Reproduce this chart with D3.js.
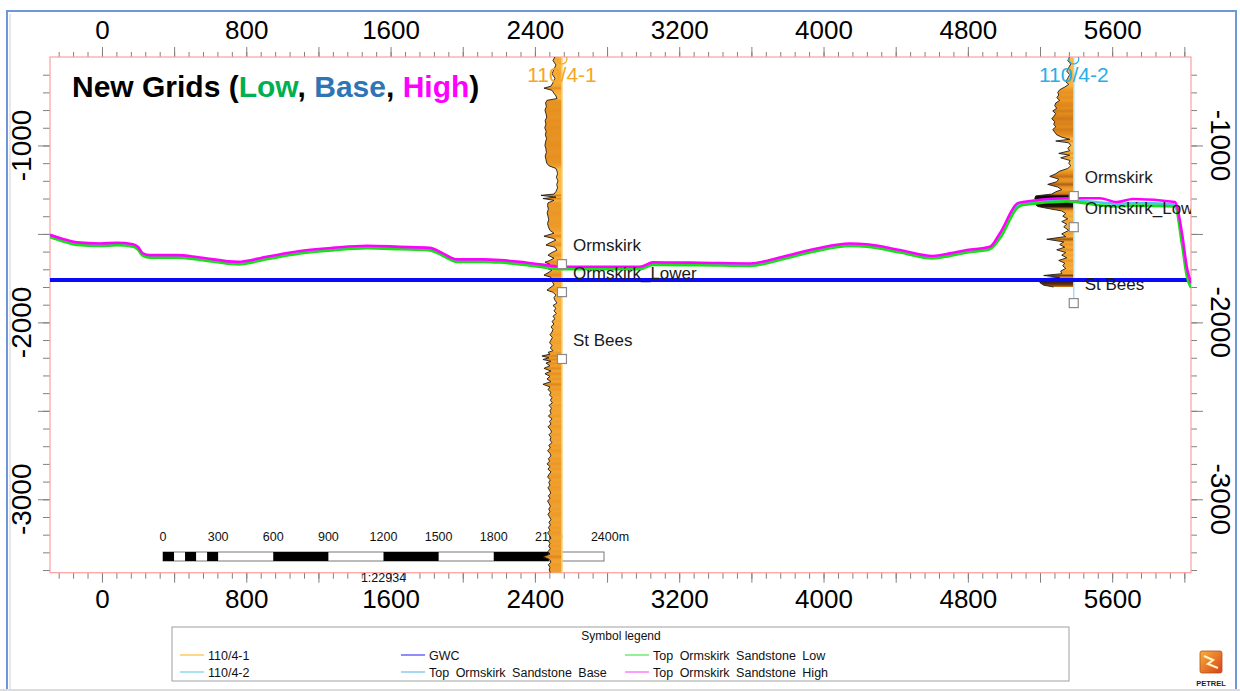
<!DOCTYPE html>
<html><head><meta charset="utf-8">
<script src="https://cdn.jsdelivr.net/npm/d3@7"></script>
<style>
html,body{margin:0;padding:0;background:#fff;}
svg{display:block;}
text{font-family:"Liberation Sans",Arial,sans-serif;}
</style></head><body>
<svg id="chart" width="1240" height="691"></svg>
<script>
// ---------------- DATA ----------------
const xAxisLabels = [0, 800, 1600, 2400, 3200, 4000, 4800, 5600];
const yAxisLabels = [-1000, -2000, -3000];
const xDomain = [-288, 6037];
const yDomain = [-500, -3415];

// horizon section positions (m along section) and depths (m)
const sectionX = [-288,-194,-139,-11,84,172,199,227,266,415,543,753,914,1098,1280,1468,1652,1817,1890,1968,2112,2207,2317,2390,2577,2761,2982,3055,3315,3592,3774,3963,4146,4240,4424,4606,4700,4795,4922,4978,5077,5105,5350,5532,5626,5715,5948,5987,6014,6037];
const topHigh = [-1505,-1535,-1548,-1554,-1550,-1558,-1573,-1610,-1620,-1620,-1633,-1658,-1629,-1597,-1579,-1567,-1573,-1579,-1610,-1644,-1644,-1648,-1658,-1667,-1686,-1686,-1686,-1661,-1663,-1667,-1629,-1582,-1554,-1558,-1591,-1625,-1610,-1591,-1573,-1496,-1326,-1320,-1298,-1298,-1320,-1303,-1320,-1496,-1688,-1778];
const topBase = [-1511,-1542,-1555,-1561,-1557,-1565,-1580,-1617,-1627,-1627,-1640,-1665,-1636,-1604,-1586,-1574,-1580,-1586,-1617,-1651,-1651,-1655,-1665,-1674,-1693,-1693,-1693,-1668,-1670,-1674,-1636,-1589,-1561,-1565,-1598,-1632,-1617,-1598,-1580,-1505,-1338,-1328,-1308,-1322,-1330,-1326,-1332,-1520,-1710,-1792];
const topLow  = [-1518,-1549,-1562,-1568,-1564,-1572,-1588,-1624,-1634,-1634,-1647,-1672,-1643,-1611,-1593,-1581,-1587,-1593,-1624,-1658,-1658,-1662,-1672,-1681,-1700,-1700,-1700,-1676,-1677,-1681,-1643,-1596,-1568,-1572,-1605,-1639,-1624,-1605,-1587,-1525,-1350,-1336,-1316,-1338,-1345,-1340,-1345,-1560,-1740,-1805];
const gwcDepth = -1760;

// wells
const wellNames = ["110/4-1", "110/4-2"];
const wellX = [2550, 5387];
const wellPathEnd = [-3415, -1891];
// log curves: [depth, GR]
const well1Log = [[-500,35],[-520,45],[-545,30],[-570,40],[-595,50],[-620,35],[-645,45],[-665,55],[-676,90],[-688,50],[-705,40],[-720,30],[-735,25],[-745,75],
[-760,82],[-780,78],[-800,85],[-820,80],[-840,76],[-860,84],[-880,80],[-900,86],[-920,79],[-940,83],[-960,77],[-980,82],[-1000,85],[-1020,80],[-1040,78],[-1060,84],[-1080,80],[-1100,76],[-1115,65],
[-1130,30],[-1145,25],[-1160,22],[-1180,28],[-1200,20],[-1220,26],[-1240,22],[-1260,30],[-1275,40],[-1282,105],[-1292,30],[-1300,95],[-1310,40],
[-1325,70],[-1340,72],[-1360,68],[-1380,74],[-1400,70],[-1420,66],[-1440,72],[-1460,68],[-1480,60],
[-1496,40],[-1513,90],[-1525,45],[-1535,30],[-1550,60],[-1563,80],[-1575,35],[-1592,25],[-1605,50],[-1620,70],[-1637,40],[-1650,60],[-1660,85],[-1672,60],[-1682,105],[-1695,75],[-1705,50],[-1720,70],[-1733,90],[-1745,55],[-1761,60],[-1775,45],[-1789,40],[-1805,60],[-1818,75],[-1830,45],[-1846,30],[-1860,40],
[-1875,35],[-1890,25],[-1905,45],[-1920,30],[-1935,40],[-1950,28],[-1965,45],[-1980,35],[-1995,50],[-2010,40],[-2025,55],[-2040,45],[-2055,50],[-2070,60],[-2085,48],[-2100,55],[-2115,62],[-2130,50],[-2145,58],[-2160,45],[-2170,70],[-2180,60],[-2190,100],[-2200,65],[-2210,95],[-2220,55],[-2230,80],[-2245,60],[-2260,90],[-2275,55],[-2290,85],[-2305,60],[-2320,75],[-2335,55],[-2350,95],[-2365,60],[-2380,70],[-2395,55],[-2410,62],[-2425,50],[-2440,58],[-2455,48],[-2470,65],[-2485,52],[-2500,60],[-2515,55],[-2530,68],[-2545,50],[-2560,62],[-2575,55],[-2590,70],[-2605,58],[-2620,52],[-2635,65],[-2650,55],[-2665,60],[-2680,50],[-2695,66],[-2710,58],[-2725,72],[-2740,60],[-2755,55],[-2770,68],[-2785,62],[-2800,75],[-2815,60],[-2830,70],[-2845,55],[-2860,65],[-2875,72],[-2890,58],[-2905,66],[-2920,60],[-2935,70],[-2950,62],[-2965,56],[-2980,68],[-2995,60],[-3010,72],[-3025,64],[-3040,58],[-3055,66],[-3070,60],[-3085,70],[-3100,62],[-3115,55],[-3130,65],[-3145,58],[-3160,68],[-3175,60],[-3190,72],[-3205,62],[-3220,55],[-3235,68],[-3250,60],[-3265,66],[-3280,58],[-3295,70],[-3310,60],[-3325,95],[-3340,62],[-3355,55],[-3370,68],[-3385,60],[-3400,64],[-3415,58]];
const well2Log = [[-500,20],[-520,30],[-540,15],[-560,25],[-580,35],[-600,20],[-620,30],[-640,40],[-655,25],[-670,45],
[-685,70],[-700,80],[-715,75],[-730,85],[-745,70],[-760,90],
[-775,95],[-790,85],[-805,105],[-820,90],[-835,100],[-850,110],[-865,95],[-880,100],[-895,90],[-910,105],[-925,95],[-940,85],[-953,60],
[-965,20],[-975,90],[-985,25],[-1000,15],[-1015,30],[-1030,20],[-1045,75],[-1055,20],[-1070,65],[-1085,18],[-1100,25],[-1115,15],[-1130,30],
[-1145,70],[-1160,90],[-1175,120],[-1190,75],[-1205,85],[-1220,130],[-1235,80],[-1250,60],[-1262,90],
[-1275,110],[-1285,190],[-1300,195],[-1315,185],[-1330,195],[-1345,180],[-1358,120],[-1370,60],
[-1385,40],[-1400,55],[-1415,30],[-1430,60],[-1445,35],[-1460,50],[-1480,25],
[-1500,60],[-1515,40],[-1530,135],[-1545,50],[-1560,70],[-1575,45],[-1590,85],[-1605,40],[-1620,60],[-1635,35],[-1650,75],[-1665,45],[-1680,55],[-1695,40],[-1710,65],
[-1725,60],[-1735,150],[-1745,70],[-1755,165],[-1765,80],[-1775,170],[-1790,150],[-1800,100]];
const well1TopNames = ["Ormskirk", "Ormskirk_Lower", "St Bees"];
const well1TopDepths = [-1671, -1829, -2207];
const well2TopNames = ["Ormskirk", "Ormskirk_Lower", "St Bees"];
const well2TopDepths = [-1286, -1462, -1891];

// scale bar
const scaleBarTicks = [0, 300, 600, 900, 1200, 1500, 1800, 2100, 2400];
const scaleBarBlocks = [[0,60],[120,180],[240,300],[600,900],[1200,1500],[1800,2100]];
const scaleRatio = "1:22934";

// legend
const legendLabels = ["110/4-1", "110/4-2", "GWC", "Top Ormskirk Sandstone Base", "Top Ormskirk Sandstone Low", "Top Ormskirk Sandstone High"];

// ---------------- STYLES / LAYOUT ----------------
const legendColors = ["#ffd68a", "#a8e2f6", "#8f8cff", "#a9d6f4", "#94f094", "#ff9cff"];
const legendCol = [0, 0, 1, 1, 2, 2], legendRow = [0, 1, 0, 1, 0, 1];
const legendColX = [180, 401, 625], legendRowY = [655, 672];
const wellColors = ["#f5a623", "#29aee6"];
const pathColors = ["#ffcf70", "#9fdcf6"];

const W = 1240, H = 691;
const L = 50, R = 1191, T = 57, B = 572.7;
const svg = d3.select("#chart");

const x = d3.scaleLinear().domain(xDomain).range([L, R]);
const y = d3.scaleLinear().domain(yDomain).range([T, B]);

// outer frame
svg.append("rect").attr("x",0).attr("y",0).attr("width",W).attr("height",H).attr("fill","#fff");
svg.append("path").attr("d", `M7,${H} V11 H1236 V${H}`).attr("fill","none").attr("stroke","#6f96d8").attr("stroke-width",2);
svg.append("path").attr("d", `M10,${H} V14`).attr("fill","none").attr("stroke","#d0d0d0").attr("stroke-width",1);
svg.append("line").attr("x1",0).attr("x2",W).attr("y1",690).attr("y2",690).attr("stroke","#dcdcdc").attr("stroke-width",2);

// clip
svg.append("defs").append("clipPath").attr("id","plotclip")
  .append("rect").attr("x",L).attr("y",T).attr("width",R-L).attr("height",B-T);

// ---------- axes ----------
const minorX = d3.range(-240, xDomain[1], 80);
const majorX = minorX.filter(v => v % 400 === 0);
const minorY = d3.range(-600, yDomain[1], -100);
const majorY = minorY.filter(v => v % 500 === 0);
const tickColor = "#808080";

function styleAxis(g){ g.select(".domain").remove(); g.selectAll("line").attr("stroke", tickColor); }

svg.append("g").attr("transform",`translate(0,${T})`).call(d3.axisTop(x).tickValues(minorX).tickSize(5).tickFormat("")).call(styleAxis);
svg.append("g").attr("transform",`translate(0,${T})`).call(d3.axisTop(x).tickValues(majorX).tickSize(10).tickFormat("")).call(styleAxis);
svg.append("g").attr("transform",`translate(0,${T})`)
  .call(d3.axisTop(x).tickValues(xAxisLabels).tickSize(0).tickPadding(18).tickFormat(d3.format("d")))
  .call(g => { g.select(".domain").remove(); g.selectAll("text").attr("font-size",26).attr("font-family","Liberation Sans, Arial").attr("fill","#000"); });

svg.append("g").attr("transform",`translate(0,${B})`).call(d3.axisBottom(x).tickValues(minorX).tickSize(6).tickFormat("")).call(styleAxis);
svg.append("g").attr("transform",`translate(0,${B})`).call(d3.axisBottom(x).tickValues(majorX).tickSize(10).tickFormat("")).call(styleAxis);
svg.append("g").attr("transform",`translate(0,${B})`)
  .call(d3.axisBottom(x).tickValues(xAxisLabels).tickSize(0).tickPadding(17).tickFormat(d3.format("d")))
  .call(g => { g.select(".domain").remove(); g.selectAll("text").attr("font-size",26).attr("font-family","Liberation Sans, Arial").attr("fill","#000"); });

svg.append("g").attr("transform",`translate(${L},0)`).call(d3.axisLeft(y).tickValues(minorY).tickSize(7).tickFormat("")).call(styleAxis);
svg.append("g").attr("transform",`translate(${L},0)`).call(d3.axisLeft(y).tickValues(majorY).tickSize(12).tickFormat("")).call(styleAxis);
svg.append("g").attr("transform",`translate(${R},0)`).call(d3.axisRight(y).tickValues(minorY).tickSize(6).tickFormat("")).call(styleAxis);
svg.append("g").attr("transform",`translate(${R},0)`).call(d3.axisRight(y).tickValues(majorY).tickSize(12).tickFormat("")).call(styleAxis);

svg.append("g").selectAll("text").data(yAxisLabels).join("text")
  .attr("transform", d => `translate(31,${y(d)}) rotate(-90)`)
  .attr("text-anchor","middle").attr("font-size",28).attr("fill","#000").text(d => d);
svg.append("g").selectAll("text").data(yAxisLabels).join("text")
  .attr("transform", d => `translate(1211,${y(d)}) rotate(90)`)
  .attr("text-anchor","middle").attr("font-size",28).attr("fill","#000").text(d => d);

// plot frame
svg.append("rect").attr("x",L).attr("y",T).attr("width",R-L).attr("height",B-T)
  .attr("fill","none").attr("stroke","#ff9e9e").attr("stroke-width",1.2);

// ---------- scale bar ----------
const sb = d3.scaleLinear().domain([0,2400]).range([163,604]);
const sbG = svg.append("g");
sbG.append("rect").attr("x",sb(0)).attr("y",552).attr("width",sb(2400)-sb(0)).attr("height",9)
  .attr("fill","#fff").attr("stroke","#777").attr("stroke-width",1);
sbG.selectAll("rect.blk").data(scaleBarBlocks).join("rect").attr("class","blk")
  .attr("x", d => sb(d[0])).attr("y",552).attr("width", d => sb(d[1]) - sb(d[0])).attr("height",9).attr("fill","#000");
sbG.selectAll("text.sbl").data(scaleBarTicks).join("text").attr("class","sbl")
  .attr("x", d => sb(d) + (d === 2400 ? 6 : 0)).attr("y",541).attr("text-anchor","middle")
  .attr("font-size",12.5).attr("fill","#111").text(d => d === 2400 ? d + "m" : d);
sbG.append("text").attr("x", sb(1200)).attr("y",582).attr("text-anchor","middle")
  .attr("font-size",12.5).attr("fill","#111").text(scaleRatio);

// ---------- wells ----------
const plot = svg.append("g").attr("clip-path","url(#plotclip)");
const gr = d3.scaleLinear().domain([0,150]).range([0,30]);
const fillColor = d3.scaleLinear().domain([0,45,90,125,160,190]).range(["#ffc85a","#f6ab37","#e38b1c","#bd6a18","#5a2d0e","#120a05"]).clamp(true);
const defs = svg.select("defs");
[well1Log, well2Log].forEach((log, i) => {
  const wx = x(wellX[i]);
  const y0 = y(log[0][0]), y1 = y(log[log.length-1][0]);
  const grad = defs.append("linearGradient").attr("id","wg"+i).attr("gradientUnits","userSpaceOnUse")
    .attr("x1",0).attr("x2",0).attr("y1",y0).attr("y2",y1);
  log.forEach(p => grad.append("stop").attr("offset",(y(p[0]) - y0)/(y1 - y0)).attr("stop-color",fillColor(p[1])));
  plot.append("path").datum(log)
    .attr("d", d3.area().y(p => y(p[0])).x0(p => wx - gr(p[1])).x1(wx))
    .attr("fill","url(#wg"+i+")");
  plot.append("path").datum(log)
    .attr("d", d3.line().y(p => y(p[0])).x(p => wx - gr(p[1])))
    .attr("fill","none").attr("stroke","#1a1a1a").attr("stroke-width",0.9);
  plot.append("line").attr("x1",wx).attr("x2",wx).attr("y1",T).attr("y2",y(wellPathEnd[i]))
    .attr("stroke",pathColors[i]).attr("stroke-width",1.5);
  plot.append("circle").attr("cx",wx).attr("cy",T+2).attr("r",5).attr("fill","none").attr("stroke",wellColors[i]).attr("stroke-width",1.2);
});

// ---------- GWC & horizons ----------
plot.append("line").attr("x1",x(xDomain[0])).attr("x2",x(xDomain[1])).attr("y1",y(gwcDepth)).attr("y2",y(gwcDepth))
  .attr("stroke","#0a0af5").attr("stroke-width",4);
const hLine = d3.line().x((d,i) => x(sectionX[i])).y(d => y(d)).curve(d3.curveMonotoneX);
[[topBase,"#4cc3f2"],[topLow,"#18e018"],[topHigh,"#ff00ff"]].forEach(([arr,c]) => {
  plot.append("path").datum(arr).attr("d",hLine).attr("fill","none").attr("stroke",c).attr("stroke-width",2.6);
});

// ---------- markers & labels ----------
[[well1TopNames, well1TopDepths],[well2TopNames, well2TopDepths]].forEach(([names, depths], i) => {
  const wx = x(wellX[i]);
  plot.selectAll(null).data(depths).join("rect")
    .attr("x", wx - 4.5).attr("y", d => y(d) - 4.5).attr("width",9).attr("height",9)
    .attr("fill","#fff").attr("stroke","#8a8a8a").attr("stroke-width",1.2);
  plot.selectAll(null).data(names).join("text")
    .attr("x", wx + 11).attr("y", (d,j) => y(depths[j]) - 13)
    .attr("font-size",17).attr("fill","#1a1a1a").text(d => d);
  svg.append("text").attr("x", wx).attr("y", 82).attr("text-anchor","middle")
    .attr("font-size",21).attr("fill",wellColors[i]).text(wellNames[i]);
});

// ---------- title ----------
const title = svg.append("text").attr("x",72).attr("y",97).attr("font-family","Lato, 'Open Sans', sans-serif")
  .attr("font-weight","bold").attr("font-size",30);
[["New Grids (","#000"],["Low","#00b050"],[", ","#000"],["Base","#2e75b6"],[", ","#000"],["High","#ff00ff"],[")","#000"]]
  .forEach(([t,c]) => title.append("tspan").attr("fill",c).text(t));

// ---------- legend ----------
const lg = svg.append("g");
lg.append("rect").attr("x",172).attr("y",627).attr("width",897).attr("height",54)
  .attr("fill","#fff").attr("stroke","#a0a0a0").attr("stroke-width",1);
lg.append("text").attr("x",621).attr("y",640).attr("text-anchor","middle").attr("font-size",12).attr("fill","#111").text("Symbol legend");
legendLabels.forEach((lab, i) => {
  const lx = legendColX[legendCol[i]], ly = legendRowY[legendRow[i]];
  lg.append("line").attr("x1",lx).attr("x2",lx+24).attr("y1",ly).attr("y2",ly).attr("stroke",legendColors[i]).attr("stroke-width",2);
  lg.append("text").attr("x",lx+28).attr("y",ly+4.5).attr("font-size",12.5).attr("word-spacing",3).attr("fill","#111").text(lab);
});

// ---------- logo ----------
const logo = svg.append("g").attr("transform","translate(1211,662)");
const lgr = defs.append("linearGradient").attr("id","logoG").attr("x1",0).attr("y1",0).attr("x2",1).attr("y2",1);
lgr.append("stop").attr("offset",0).attr("stop-color","#f7b23a");
lgr.append("stop").attr("offset",1).attr("stop-color","#d8401c");
logo.append("rect").attr("x",-11).attr("y",-11).attr("width",22).attr("height",22).attr("rx",2).attr("fill","url(#logoG)").attr("stroke","#b0501a").attr("stroke-width",0.8);
logo.append("path").attr("d","M-7,-6 L2,-2 L-3,2 L7,6").attr("fill","none").attr("stroke","#fff3c0").attr("stroke-width",2.2);
logo.append("text").attr("x",0).attr("y",24).attr("text-anchor","middle").attr("font-size",7.5).attr("font-weight","bold").attr("fill","#222").text("PETREL");
</script>
</body></html>
